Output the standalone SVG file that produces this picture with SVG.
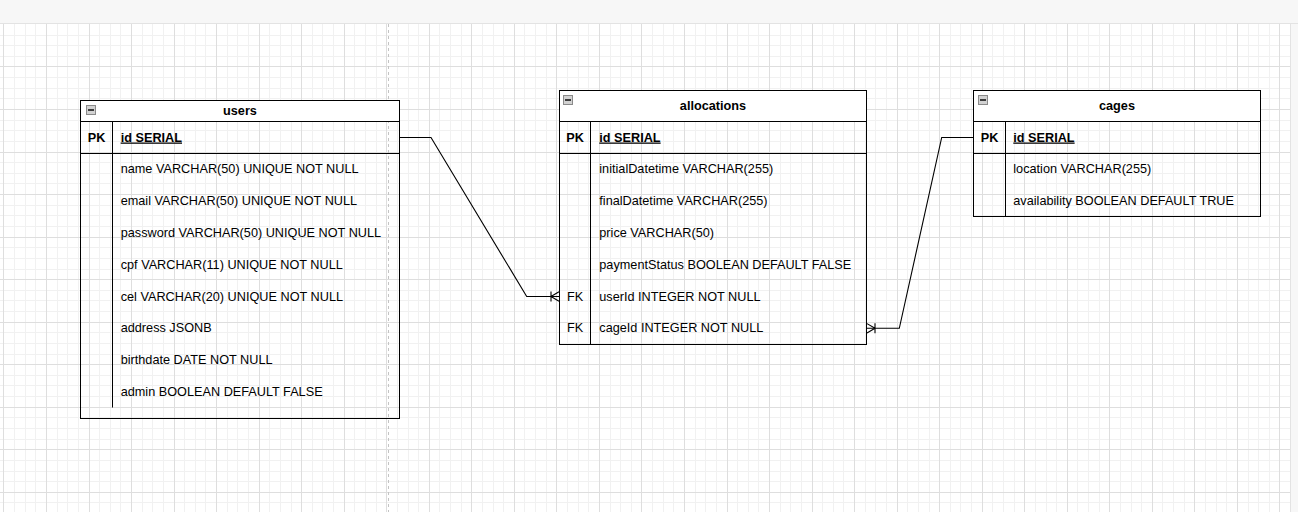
<svg xmlns="http://www.w3.org/2000/svg" width="1298" height="512" viewBox="0 0 1298 512">
<style>
text{font-family:"Liberation Sans",Arial,Helvetica,sans-serif;font-size:12.7px;fill:#000}
.t{font-weight:bold;text-anchor:middle}
.k{text-anchor:middle}
.pk{font-weight:bold}
.u{font-weight:bold;text-decoration:underline}
.frame{fill:none;stroke:#000;stroke-width:1}
.head{fill:#fff;stroke:#000;stroke-width:1}
.ln{stroke:#000;stroke-width:1;fill:none}
.ico{fill:#d2d2d2;stroke:#8a8a8a;stroke-width:1}
.icol{stroke:#3c3c3c;stroke-width:2}
.edge{fill:none;stroke:#000;stroke-width:1.1}
</style>
<rect x="0" y="0" width="1298" height="512" fill="#f7f7f7"/>
<rect x="0" y="24" width="1290" height="488" fill="#fff"/>
<path d="M0 23.5H1298M1290.5 24V512" stroke="#e3e3e3" stroke-width="1"/>
<g shape-rendering="crispEdges" stroke-width="1">
<path stroke="#f1f1f1" d="M14 24V512M25 24V512M35 24V512M57 24V512M67 24V512M78 24V512M99 24V512M110 24V512M120 24V512M142 24V512M152 24V512M163 24V512M184 24V512M195 24V512M205 24V512M227 24V512M237 24V512M248 24V512M269 24V512M280 24V512M291 24V512M312 24V512M322 24V512M333 24V512M354 24V512M365 24V512M376 24V512M397 24V512M408 24V512M418 24V512M439 24V512M450 24V512M461 24V512M482 24V512M493 24V512M503 24V512M524 24V512M535 24V512M546 24V512M567 24V512M578 24V512M588 24V512M610 24V512M620 24V512M631 24V512M652 24V512M663 24V512M673 24V512M695 24V512M705 24V512M716 24V512M737 24V512M748 24V512M758 24V512M780 24V512M790 24V512M801 24V512M822 24V512M833 24V512M843 24V512M865 24V512M875 24V512M886 24V512M907 24V512M918 24V512M929 24V512M950 24V512M960 24V512M971 24V512M992 24V512M1003 24V512M1014 24V512M1035 24V512M1046 24V512M1056 24V512M1077 24V512M1088 24V512M1099 24V512M1120 24V512M1131 24V512M1141 24V512M1162 24V512M1173 24V512M1184 24V512M1205 24V512M1216 24V512M1226 24V512M1248 24V512M1258 24V512M1269 24V512M0 35H1290M0 45H1290M0 56H1290M0 77H1290M0 88H1290M0 98H1290M0 120H1290M0 130H1290M0 141H1290M0 162H1290M0 173H1290M0 183H1290M0 205H1290M0 215H1290M0 226H1290M0 247H1290M0 258H1290M0 269H1290M0 290H1290M0 300H1290M0 311H1290M0 332H1290M0 343H1290M0 354H1290M0 375H1290M0 385H1290M0 396H1290M0 417H1290M0 428H1290M0 439H1290M0 460H1290M0 471H1290M0 481H1290M0 502H1290"/>
<path stroke="#dedede" d="M3 24V512M46 24V512M89 24V512M131 24V512M174 24V512M216 24V512M259 24V512M301 24V512M344 24V512M386 24V512M429 24V512M471 24V512M514 24V512M556 24V512M599 24V512M641 24V512M684 24V512M727 24V512M769 24V512M812 24V512M854 24V512M897 24V512M939 24V512M982 24V512M1024 24V512M1067 24V512M1109 24V512M1152 24V512M1194 24V512M1237 24V512M1279 24V512M0 66H1290M0 109H1290M0 152H1290M0 194H1290M0 237H1290M0 279H1290M0 322H1290M0 364H1290M0 407H1290M0 449H1290M0 492H1290"/>
</g>
<path d="M388.5 24V512" stroke="#c4c4c4" stroke-width="1" stroke-dasharray="3 3"/>

<g id="users">
<rect class="head" x="80.5" y="100.5" width="319" height="21"/>
<rect class="frame" x="80.5" y="100.5" width="319" height="318"/>
<path class="ln" d="M80.5 153.5H399.5M112.5 121.5V407.5"/>
<rect class="ico" x="86.5" y="105.5" width="9" height="9"/>
<path class="icol" d="M88 110H94"/>
<text class="t" x="240" y="115">users</text>
<text class="k pk" x="96.5" y="141.5">PK</text>
<text class="u" x="120.7" y="141.5">id SERIAL</text>
<text x="120.7" y="173.3">name VARCHAR(50) UNIQUE NOT NULL</text>
<text x="120.7" y="205.1">email VARCHAR(50) UNIQUE NOT NULL</text>
<text x="120.7" y="236.9">password VARCHAR(50) UNIQUE NOT NULL</text>
<text x="120.7" y="268.7">cpf VARCHAR(11) UNIQUE NOT NULL</text>
<text x="120.7" y="300.5">cel VARCHAR(20) UNIQUE NOT NULL</text>
<text x="120.7" y="332.3">address JSONB</text>
<text x="120.7" y="364.1">birthdate DATE NOT NULL</text>
<text x="120.7" y="395.9">admin BOOLEAN DEFAULT FALSE</text>
</g>

<g id="allocations">
<rect class="head" x="559.5" y="90.5" width="307" height="31"/>
<rect class="frame" x="559.5" y="90.5" width="307" height="254"/>
<path class="ln" d="M559.5 153.5H866.5M590.5 121.5V344.5"/>
<rect class="ico" x="563.5" y="95.5" width="9" height="9"/>
<path class="icol" d="M565 100H571"/>
<text class="t" x="713" y="109.5">allocations</text>
<text class="k pk" x="575" y="141.5">PK</text>
<text class="u" x="599.3" y="141.5">id SERIAL</text>
<text x="599.3" y="173.3">initialDatetime VARCHAR(255)</text>
<text x="599.3" y="205.1">finalDatetime VARCHAR(255)</text>
<text x="599.3" y="236.9">price VARCHAR(50)</text>
<text x="599.3" y="268.7">paymentStatus BOOLEAN DEFAULT FALSE</text>
<text class="k" x="575" y="300.5">FK</text>
<text x="599.3" y="300.5">userId INTEGER NOT NULL</text>
<text class="k" x="575" y="332.3">FK</text>
<text x="599.3" y="332.3">cageId INTEGER NOT NULL</text>
</g>

<g id="cages">
<rect class="head" x="973.5" y="90.5" width="287" height="31"/>
<rect class="frame" x="973.5" y="90.5" width="287" height="126"/>
<path class="ln" d="M973.5 153.5H1260.5M1005.5 121.5V216.5"/>
<rect class="ico" x="978.5" y="95.5" width="9" height="9"/>
<path class="icol" d="M980 100H986"/>
<text class="t" x="1117" y="109.5">cages</text>
<text class="k pk" x="989.5" y="141.5">PK</text>
<text class="u" x="1013.3" y="141.5">id SERIAL</text>
<text x="1013.3" y="173.3">location VARCHAR(255)</text>
<text x="1013.3" y="205.1">availability BOOLEAN DEFAULT TRUE</text>
</g>

<g id="connectors">
<path class="edge" d="M399.5 137.5H431L526.7 296.5H559"/>
<path class="edge" d="M551 291.5V301.5M551 296.5L559 291.8M551 296.5L559 301.2"/>
<path class="edge" d="M973.5 137.5H941.7L899.3 328.3H866.5"/>
<path class="edge" d="M875 323.3V333.3M875 328.3L867 323.6M875 328.3L867 333"/>
</g>
</svg>
